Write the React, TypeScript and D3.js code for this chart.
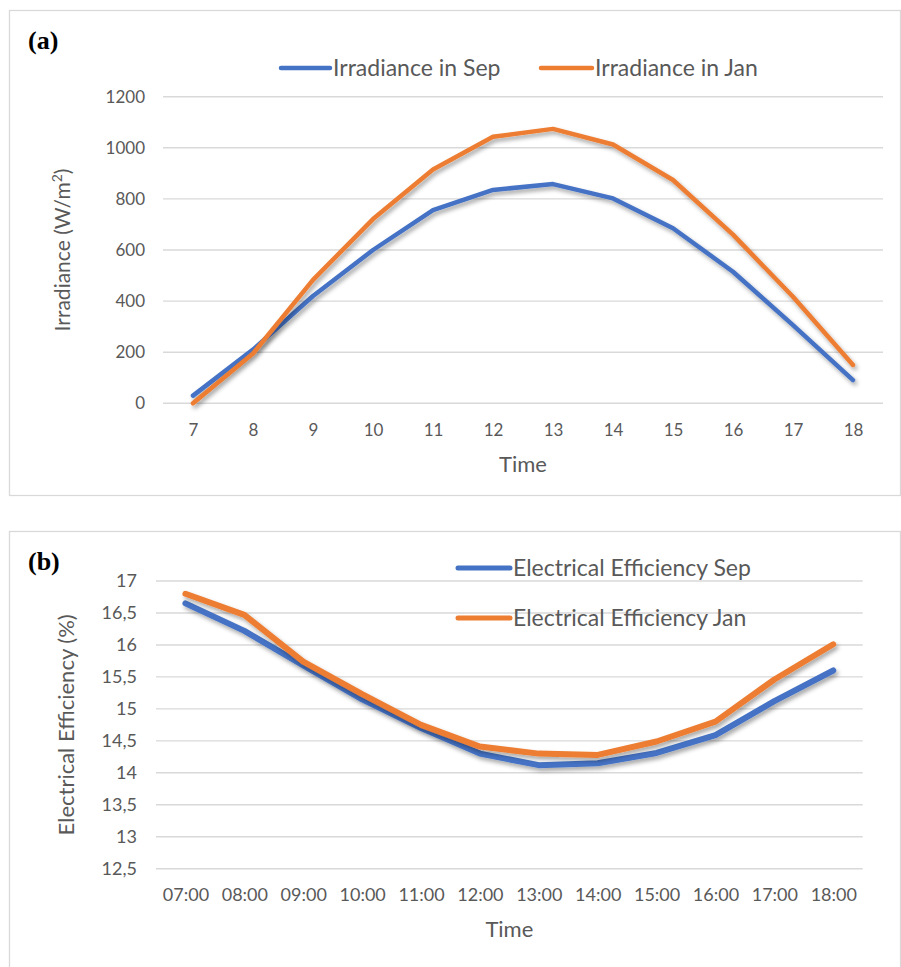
import { useEffect, useRef } from "react";
import * as d3 from "d3";

// panel (a): irradiance per hour
const hours = ["7", "8", "9", "10", "11", "12", "13", "14", "15", "16", "17", "18"];
const irradianceSep = [30, 210, 420, 600, 756, 835, 858, 802, 685, 515, 306, 91];
const irradianceJan = [0, 195, 483, 721, 915, 1043, 1074, 1013, 874, 660, 417, 150];
const irradianceTicks = [0, 200, 400, 600, 800, 1000, 1200];

// panel (b): electrical efficiency per hour
const timeLabels = ["07:00", "08:00", "09:00", "10:00", "11:00", "12:00", "13:00", "14:00", "15:00", "16:00", "17:00", "18:00"];
const efficiencySep = [16.65, 16.22, 15.68, 15.15, 14.7, 14.3, 14.12, 14.15, 14.31, 14.59, 15.12, 15.6];
const efficiencyJan = [16.8, 16.47, 15.74, 15.23, 14.75, 14.41, 14.3, 14.28, 14.49, 14.8, 15.46, 16.01];
const efficiencyTicks = [12.5, 13, 13.5, 14, 14.5, 15, 15.5, 16, 16.5, 17];

const BLUE = "#4472C4";
const ORANGE = "#ED7D31";
const TEXT = "#595959";
const GRID = "#D9D9D9";
const FONT = "Lato, 'Open Sans', sans-serif";

const commaLocale = d3.formatLocale({ decimal: ",", thousands: ".", grouping: [3], currency: ["", ""] });

const App = () => {
  const ref = useRef<SVGSVGElement>(null);

  useEffect(() => {
    const svg = d3.select(ref.current);
    svg.selectAll("*").remove();

    // sombra das linhas (estilo Excel)
    svg
      .append("defs")
      .append("filter")
      .attr("id", "shadow")
      .attr("x", "-10%")
      .attr("y", "-10%")
      .attr("width", "130%")
      .attr("height", "140%")
      .append("feDropShadow")
      .attr("dx", 2)
      .attr("dy", 3)
      .attr("stdDeviation", 2)
      .attr("flood-color", "#000")
      .attr("flood-opacity", 0.35);

    const drawPanel = (opts: {
      boxTop: number;
      boxHeight: number;
      left: number;
      right: number;
      top: number;
      bottom: number;
      cats: string[];
      domain: [number, number];
      ticks: number[];
      fmt: (v: number) => string;
      series: { values: number[]; color: string }[];
      lineWidth: number;
      tag: string;
      tagY: number;
      yTitleX: number;
      yTitleSize: number;
      tickSize: number;
      xTickSize: number;
      xLabelY: number;
      xTitleY: number;
      tickPad: number;
    }) => {
      const g = svg.append("g");

      g.append("rect")
        .attr("x", 9.5)
        .attr("y", opts.boxTop + 0.5)
        .attr("width", 891)
        .attr("height", opts.boxHeight)
        .attr("fill", "#fff")
        .attr("stroke", GRID)
        .attr("stroke-width", 1.3);

      const x = d3.scalePoint<string>().domain(opts.cats).range([opts.left, opts.right]).padding(0.5);
      const y = d3.scaleLinear().domain(opts.domain).range([opts.bottom, opts.top]);

      // grade horizontal
      g.selectAll("line.grid")
        .data(opts.ticks)
        .enter()
        .append("line")
        .attr("class", "grid")
        .attr("x1", opts.left)
        .attr("x2", opts.right)
        .attr("y1", (d) => y(d))
        .attr("y2", (d) => y(d))
        .attr("stroke", GRID)
        .attr("stroke-width", 1.4);

      const yAxis = d3.axisLeft(y).tickValues(opts.ticks).tickSize(0).tickPadding(opts.tickPad).tickFormat((d) => opts.fmt(+d));
      g.append("g")
        .attr("transform", `translate(${opts.left},0)`)
        .call(yAxis)
        .call((a) => a.select(".domain").remove())
        .call((a) => a.selectAll("text").attr("fill", TEXT).style("font-family", FONT).style("font-size", `${opts.tickSize}px`));

      const xAxis = d3.axisBottom(x).tickSize(0).tickPadding(0);
      g.append("g")
        .attr("transform", `translate(0,${opts.xLabelY})`)
        .call(xAxis)
        .call((a) => a.select(".domain").remove())
        .call((a) => a.selectAll("text").attr("fill", TEXT).attr("dy", "0.35em").style("font-family", FONT).style("font-size", `${opts.xTickSize}px`));

      const line = d3
        .line<number>()
        .x((_, i) => x(opts.cats[i])!)
        .y((d) => y(d));

      opts.series.forEach((s) => {
        g.append("path")
          .datum(s.values)
          .attr("fill", "none")
          .attr("stroke", s.color)
          .attr("stroke-width", opts.lineWidth)
          .attr("stroke-linecap", "round")
          .attr("stroke-linejoin", "round")
          .attr("filter", "url(#shadow)")
          .attr("d", line);
      });

      // títulos
      g.append("text")
        .attr("x", 28)
        .attr("y", opts.tagY)
        .attr("font-family", "'Liberation Serif', 'Times New Roman', serif")
        .attr("font-weight", "bold")
        .attr("font-size", 26)
        .attr("fill", "#000")
        .text(opts.tag);

      g.append("text")
        .attr("x", (opts.left + opts.right) / 2)
        .attr("y", opts.xTitleY)
        .attr("text-anchor", "middle")
        .attr("font-family", FONT)
        .attr("font-size", 22)
        .attr("fill", TEXT)
        .text("Time");

      return g
        .append("text")
        .attr("transform", `translate(${opts.yTitleX},${(opts.top + opts.bottom) / 2}) rotate(-90)`)
        .attr("text-anchor", "middle")
        .attr("dy", "0.35em")
        .attr("font-family", FONT)
        .attr("font-size", opts.yTitleSize)
        .attr("fill", TEXT);
    };

    // (a)
    const ytA = drawPanel({
      boxTop: 10,
      boxHeight: 485,
      left: 163,
      right: 883,
      top: 96.7,
      bottom: 403.3,
      cats: hours,
      domain: [0, 1200],
      ticks: irradianceTicks,
      fmt: d3.format("d"),
      series: [
        { values: irradianceSep, color: BLUE },
        { values: irradianceJan, color: ORANGE },
      ],
      lineWidth: 4.5,
      tag: "(a)",
      tagY: 49,
      yTitleX: 63,
      yTitleSize: 21,
      tickSize: 17,
      xTickSize: 17,
      xLabelY: 430,
      xTitleY: 472,
      tickPad: 18,
    });
    ytA.append("tspan").text("Irradiance (W/m");
    ytA.append("tspan").attr("baseline-shift", "super").attr("font-size", 14).text("2");
    ytA.append("tspan").text(")");

    // (b)
    const ytB = drawPanel({
      boxTop: 531,
      boxHeight: 500,
      left: 156,
      right: 862.7,
      top: 581,
      bottom: 868.7,
      cats: timeLabels,
      domain: [12.5, 17],
      ticks: efficiencyTicks,
      fmt: commaLocale.format("~f"),
      series: [
        { values: efficiencySep, color: BLUE },
        { values: efficiencyJan, color: ORANGE },
      ],
      lineWidth: 6,
      tag: "(b)",
      tagY: 570,
      yTitleX: 66,
      yTitleSize: 22,
      tickSize: 18,
      xTickSize: 18,
      xLabelY: 895,
      xTitleY: 937,
      tickPad: 19,
    });
    ytB.text("Electrical Efficiency (%)");

    // legendas
    const legend = (items: { label: string; color: string; x: number; y: number; w: number; size: number; lw: number }[]) => {
      const lg = svg.append("g");
      items.forEach((it) => {
        lg.append("line")
          .attr("x1", it.x)
          .attr("x2", it.x + it.w)
          .attr("y1", it.y)
          .attr("y2", it.y)
          .attr("stroke", it.color)
          .attr("stroke-width", it.lw)
          .attr("stroke-linecap", "round");
        lg.append("text")
          .attr("x", it.x + it.w + 3)
          .attr("y", it.y)
          .attr("dy", "0.35em")
          .attr("font-family", FONT)
          .attr("font-size", it.size)
          .attr("fill", TEXT)
          .text(it.label);
      });
    };

    legend([
      { label: "Irradiance in Sep", color: BLUE, x: 281, y: 68, w: 49, size: 23, lw: 4.5 },
      { label: "Irradiance in Jan", color: ORANGE, x: 541, y: 68, w: 51, size: 23, lw: 4.5 },
    ]);
    legend([
      { label: "Electrical Efficiency Sep", color: BLUE, x: 458, y: 568, w: 52, size: 23, lw: 5 },
      { label: "Electrical Efficiency Jan", color: ORANGE, x: 458, y: 618, w: 52, size: 23, lw: 5 },
    ]);
  }, []);

  return (
    <svg
      ref={ref}
      width={901}
      height={967}
      style={{ position: "absolute", left: 0, top: 0, background: "#fff" }}
    />
  );
};

export default App;
